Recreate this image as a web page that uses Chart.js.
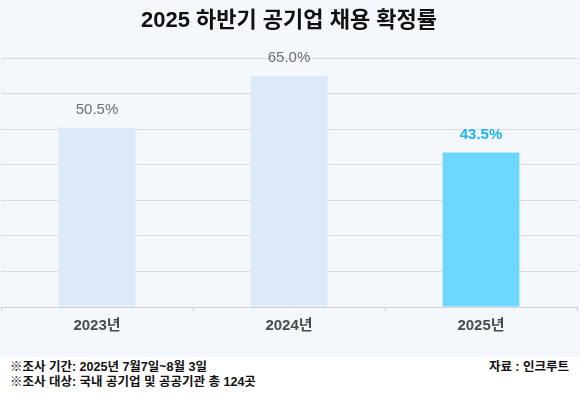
<!DOCTYPE html>
<html>
<head>
<meta charset="utf-8">
<script src="https://cdn.jsdelivr.net/npm/chart.js@4"></script>
<style>
  html, body { margin: 0; padding: 0; background: #fff; }
  #wrap { position: relative; width: 580px; height: 398px; font-family: "Liberation Sans", "Noto Sans CJK KR", sans-serif; }
  #chartBox { position: absolute; left: 0; top: 0; width: 580px; height: 357px; background: #f4f8fc; }
  .note { position: absolute; font-size: 12.5px; font-weight: bold; color: #111; line-height: 15px; white-space: nowrap; }
</style>
</head>
<body>
<div id="wrap">
  <div id="chartBox"><canvas id="BarChart" width="580" height="357"></canvas></div>
  <div class="note" style="left:10px; top:360px;">※조사 기간: 2025년 7월7일~8월 3일</div>
  <div class="note" style="left:10px; top:375px;">※조사 대상: 국내 공기업 및 공공기관 총 124곳</div>
  <div class="note" style="right:11px; top:360px;">자료 : 인크루트</div>
</div>
<script>
const years = ['2023년', '2024년', '2025년'];
const rates = [50.5, 65.0, 43.5];
const barColors = ['#dce9f6', '#dce9f6', '#6dd8fe'];
const labelColors = ['#6e6e6e', '#6e6e6e', '#1fb2ee'];
const FONT = '"Liberation Sans", "Noto Sans CJK KR", sans-serif';

// value labels above bars
const valueLabels = {
  id: 'valueLabels',
  afterDatasetsDraw(chart) {
    const ctx = chart.ctx;
    const meta = chart.getDatasetMeta(0);
    ctx.save();
    ctx.textAlign = 'center';
    ctx.textBaseline = 'middle';
    meta.data.forEach((bar, i) => {
      ctx.font = (i === 2 ? 'bold ' : '') + '15px ' + FONT;
      ctx.fillStyle = labelColors[i];
      ctx.fillText(rates[i].toFixed(1) + '%', bar.x, bar.y - 18);
    });
    ctx.restore();
  }
};

const ctx = document.getElementById('BarChart');
const myChart = new Chart(ctx, {
  type: 'bar',
  data: {
    labels: years,
    datasets: [{
      data: rates,
      backgroundColor: barColors,
      barPercentage: 0.4,
      categoryPercentage: 1.0
    }]
  },
  options: {
    responsive: false,
    animation: false,
    layout: { padding: { left: 1, right: 3, top: 0, bottom: 16 } },
    plugins: {
      legend: { display: false },
      tooltip: { enabled: false },
      title: {
        display: true,
        text: '2025 하반기 공기업 채용 확정률',
        color: '#111',
        font: { family: FONT, size: 22, weight: 'bold' },
        padding: { top: 8, bottom: 24 }
      }
    },
    scales: {
      x: {
        grid: { drawOnChartArea: false, drawTicks: true, tickLength: 4, color: '#cfcfcf' },
        border: { color: '#cfcfcf' },
        ticks: { color: '#4a4a4a', padding: 6, font: { family: FONT, size: 15, weight: 'bold' } }
      },
      y: {
        min: 0,
        max: 70,
        ticks: { display: false, stepSize: 10 },
        grid: { color: '#dcdcdc', drawTicks: false },
        border: { display: false }
      }
    }
  },
  plugins: [valueLabels]
});
</script>
</body>
</html>
